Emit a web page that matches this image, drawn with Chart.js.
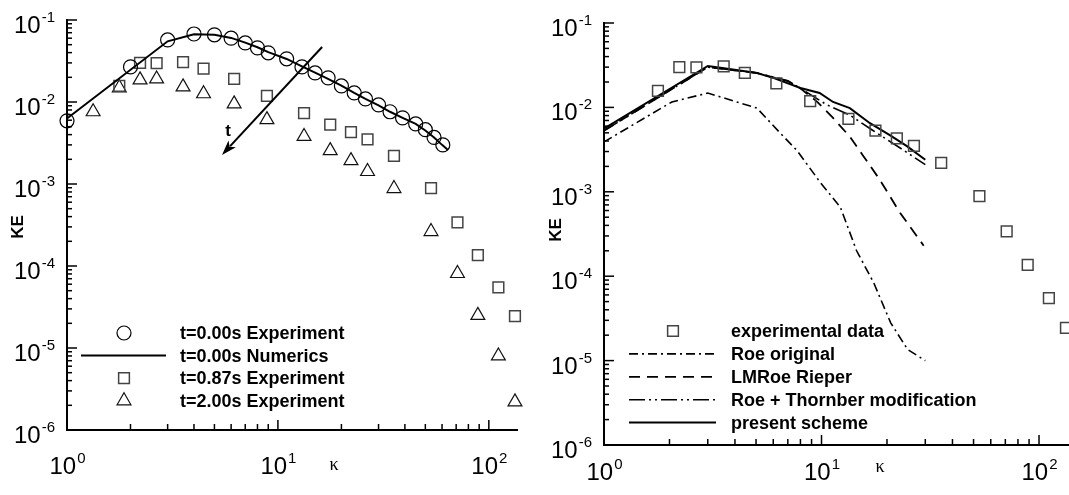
<!DOCTYPE html>
<html>
<head>
<meta charset="utf-8">
<script src="https://cdn.jsdelivr.net/npm/chart.js@4.4.1/dist/chart.umd.min.js"></script>
<style>
  html, body { margin: 0; padding: 0; background: #fff; overflow: hidden; width: 1069px; height: 495px; }
  canvas { position: absolute; top: 0; }
  #leftChart { left: 0; }
  #rightChart { left: 534px; }
</style>
</head>
<body>
<canvas id="leftChart" width="534" height="495"></canvas>
<canvas id="rightChart" width="580" height="495"></canvas>
<script>
// ---- data: left panel (decay of spectrum) ----
const kCircles = [1, 2, 3, 4, 5, 6, 7, 8, 9, 11, 13, 15, 17.3, 20, 23, 26, 30, 34, 39, 45, 50, 55, 60.5];
const keCircles = [0.0059, 0.0268, 0.0571, 0.0675, 0.066, 0.060, 0.0525, 0.0457, 0.0398, 0.0336, 0.0268, 0.0226, 0.0197, 0.0157, 0.0129, 0.0109, 0.0092, 0.0076, 0.0064, 0.0054, 0.0046, 0.0037, 0.0030];

const kNumerics = [1, 3, 4, 5, 6, 7, 8, 9, 11, 13, 15, 17, 20, 23, 26, 30, 34, 39, 45, 50, 55, 60, 64];
const keNumerics = [0.0063, 0.055, 0.067, 0.066, 0.0605, 0.053, 0.0465, 0.0405, 0.0335, 0.0272, 0.0228, 0.0196, 0.0158, 0.0129, 0.0109, 0.0091, 0.0076, 0.0064, 0.0054, 0.0045, 0.0037, 0.0030, 0.0026];

const kSquares = [1.77, 2.22, 2.66, 3.55, 4.44, 6.2, 8.87, 13.3, 17.7, 22.2, 26.6, 35.5, 53.2, 71, 88.7, 111, 133];
const keSquares = [0.0157, 0.0300, 0.0298, 0.0306, 0.0256, 0.0192, 0.0119, 0.0073, 0.0053, 0.0043, 0.0035, 0.0022, 0.00089, 0.00034, 0.000136, 0.000055, 0.0000244];

const kTriangles = [1.33, 1.77, 2.22, 2.66, 3.55, 4.44, 6.2, 8.87, 13.3, 17.7, 22.2, 26.6, 35.5, 53.2, 71, 88.7, 111, 133];
const keTriangles = [0.0076, 0.0149, 0.0186, 0.0191, 0.0153, 0.0126, 0.0095, 0.0061, 0.0038, 0.00255, 0.00193, 0.00142, 0.00088, 0.000263, 0.000081, 0.000025, 0.0000080, 0.0000022];

// arrow "t" (data coords)
const arrowFrom = [16.2, 0.0469];
const arrowTo = [5.43, 0.00226];
const arrowLabelAt = [5.8, 0.00434];

// ---- data: right panel (schemes) ----
const kRoe = [1, 2.05, 3, 5.05, 6.44, 7.7, 9.85, 12.2, 14.5, 17.4, 20.8, 24.9, 30];
const keRoe = [0.0039, 0.0116, 0.0148, 0.0098, 0.005, 0.0031, 0.0013, 0.00066, 0.0002, 0.000083, 0.000028, 0.0000135, 0.00001];

const kLMRoe = [1, 3, 5, 7, 8, 9.5, 11.3, 13.5, 15.5, 18.5, 23, 29.5];
const keLMRoe = [0.0053, 0.030, 0.0257, 0.0205, 0.0168, 0.0118, 0.0075, 0.0045, 0.0027, 0.0014, 0.00056, 0.00023];

const kThornber = [1, 3, 5, 7, 8, 10.6, 13.5, 17.1, 23, 30];
const keThornber = [0.0053, 0.0300, 0.0257, 0.0207, 0.0168, 0.0107, 0.0081, 0.0054, 0.0033, 0.0021];

const kPresent = [1, 3, 3.5, 5.05, 6, 8, 9.8, 11.3, 13.5, 16.7, 20.6, 24.6, 30];
const kePresent = [0.0056, 0.031, 0.0293, 0.0256, 0.0224, 0.017, 0.0148, 0.0116, 0.0098, 0.0065, 0.0047, 0.0035, 0.0024];

// ticks
const xTickPowers = [0, 1, 2];
const yTickPowers = [-6, -5, -4, -3, -2, -1];
const minorSteps = [2, 3, 4, 5, 6, 7, 8, 9];

const FONT = '"Liberation Sans", Arial, Helvetica, sans-serif';

function pts(xs, ys) {
  return xs.map((x, i) => ({ x: x, y: ys[i] }));
}

function logTicks(powers, min, max) {
  const out = [];
  powers.forEach((p) => {
    const d = Math.pow(10, p);
    if (d >= min * 0.999 && d <= max * 1.001) out.push({ value: d, major: true, power: p });
    minorSteps.forEach((m) => {
      const v = m * d;
      if (v >= min && v <= max) out.push({ value: v, major: false });
    });
  });
  return out;
}

function supLabel(ctx, exp, x, y, align) {
  ctx.font = '24px ' + FONT;
  const wb = ctx.measureText('10').width;
  ctx.font = '15px ' + FONT;
  const we = ctx.measureText(exp).width;
  const x0 = align === 'center' ? x - (wb + we) / 2 : x - (wb + we + 1);
  ctx.font = '24px ' + FONT;
  ctx.fillText('10', x0, y);
  ctx.font = '15px ' + FONT;
  ctx.fillText(exp, x0 + wb + 1, y - 11);
}

// draws inward tick marks, tick labels, axis titles, legend and arrow
const decorPlugin = {
  id: 'decor',
  afterDatasetsDraw(chart, args, opts) {
    const ctx = chart.ctx;
    const xs = chart.scales.x;
    const ys = chart.scales.y;
    const area = chart.chartArea;
    ctx.save();
    ctx.strokeStyle = '#000';
    ctx.fillStyle = '#000';
    ctx.lineWidth = 1.5;
    ctx.textBaseline = 'alphabetic';
    ctx.textAlign = 'left';

    logTicks(xTickPowers, xs.min, xs.max).forEach((t) => {
      const px = xs.getPixelForValue(t.value);
      const len = t.major ? 10 : 6;
      ctx.beginPath();
      ctx.moveTo(px, area.bottom);
      ctx.lineTo(px, area.bottom - len);
      ctx.stroke();
      if (t.major) supLabel(ctx, String(t.power), px, opts.xLabelY, 'center');
    });

    logTicks(yTickPowers, ys.min, ys.max).forEach((t) => {
      const py = ys.getPixelForValue(t.value);
      const len = t.major ? 10 : 5;
      ctx.beginPath();
      ctx.moveTo(area.left, py);
      ctx.lineTo(area.left + len, py);
      ctx.stroke();
      if (t.major) supLabel(ctx, String(t.power), area.left - 12, py + 13, 'right');
    });

    // axis titles
    ctx.font = 'bold 17px ' + FONT;
    ctx.textAlign = 'center';
    ctx.textBaseline = 'middle';
    ctx.save();
    ctx.translate(opts.keX, opts.keY);
    ctx.rotate(-Math.PI / 2);
    ctx.fillText('KE', 0, 0);
    ctx.restore();
    ctx.font = '18px "Liberation Serif", "Times New Roman", serif';
    ctx.fillText('\u03BA', opts.kappaX, opts.kappaY);

    // legend
    const lg = opts.legend;
    chart.data.datasets.forEach((ds, i) => {
      const y = lg.top + i * lg.step;
      ctx.save();
      if (ds.showLine) {
        ctx.lineWidth = ds.borderWidth;
        ctx.setLineDash(ds.borderDash || []);
        ctx.beginPath();
        ctx.moveTo(lg.lineX0, y);
        ctx.lineTo(lg.lineX1, y);
        ctx.stroke();
      } else {
        ctx.strokeStyle = ds.borderColor;
        ctx.fillStyle = 'rgba(0,0,0,0)';
        ctx.lineWidth = ds.borderWidth;
        Chart.helpers.drawPoint(ctx, { pointStyle: ds.pointStyle, radius: ds.pointRadius, rotation: 0, borderWidth: ds.borderWidth }, lg.symX, y);
      }
      ctx.restore();
      ctx.font = 'bold 18px ' + FONT;
      ctx.textAlign = 'left';
      ctx.textBaseline = 'middle';
      ctx.fillText(ds.label, lg.textX, y + 1);
    });

    // arrow
    if (opts.arrow) {
      const x0 = xs.getPixelForValue(arrowFrom[0]);
      const y0 = ys.getPixelForValue(arrowFrom[1]);
      const x1 = xs.getPixelForValue(arrowTo[0]);
      const y1 = ys.getPixelForValue(arrowTo[1]);
      const ang = Math.atan2(y1 - y0, x1 - x0);
      const hl = 15, hw = 5;
      ctx.lineWidth = 2;
      ctx.beginPath();
      ctx.moveTo(x0, y0);
      ctx.lineTo(x1 - Math.cos(ang) * hl * 0.8, y1 - Math.sin(ang) * hl * 0.8);
      ctx.stroke();
      ctx.beginPath();
      ctx.moveTo(x1, y1);
      ctx.lineTo(x1 - Math.cos(ang) * hl - Math.sin(ang) * hw, y1 - Math.sin(ang) * hl + Math.cos(ang) * hw);
      ctx.lineTo(x1 - Math.cos(ang) * hl * 0.75, y1 - Math.sin(ang) * hl * 0.75);
      ctx.lineTo(x1 - Math.cos(ang) * hl + Math.sin(ang) * hw, y1 - Math.sin(ang) * hl - Math.cos(ang) * hw);
      ctx.closePath();
      ctx.fill();
      ctx.font = 'bold 17px ' + FONT;
      ctx.textAlign = 'center';
      ctx.fillText('t', xs.getPixelForValue(arrowLabelAt[0]), ys.getPixelForValue(arrowLabelAt[1]));
    }
    ctx.restore();
  },
};

function logAxis(min, max) {
  return {
    type: 'logarithmic',
    min: min,
    max: max,
    ticks: { display: false },
    grid: { display: false, drawTicks: false, tickLength: 0 },
    border: { display: true, color: '#000', width: 2 },
    title: { display: false },
  };
}

function baseOptions(pad, xMax, decor) {
  return {
    responsive: false,
    devicePixelRatio: 1,
    animation: false,
    events: [],
    layout: { padding: pad },
    scales: { x: logAxis(1, xMax), y: logAxis(1e-6, 0.1) },
    plugins: { legend: { display: false }, tooltip: { enabled: false }, decor: decor },
  };
}

// left chart
new Chart(document.getElementById('leftChart'), {
  type: 'scatter',
  data: {
    datasets: [
      { label: 't=0.00s Experiment', data: pts(kCircles, keCircles), pointStyle: 'circle', pointRadius: 7, borderColor: '#000', backgroundColor: 'rgba(0,0,0,0)', borderWidth: 1.2, showLine: false, clip: false },
      { label: 't=0.00s Numerics', data: pts(kNumerics, keNumerics), pointRadius: 0, borderColor: '#000', borderWidth: 2, showLine: true, tension: 0, clip: false },
      { label: 't=0.87s Experiment', data: pts(kSquares, keSquares), pointStyle: 'rect', pointRadius: 7.6, borderColor: '#444', backgroundColor: 'rgba(0,0,0,0)', borderWidth: 1.5, showLine: false, clip: false },
      { label: 't=2.00s Experiment', data: pts(kTriangles, keTriangles), pointStyle: 'triangle', pointRadius: 8, borderColor: '#111', backgroundColor: 'rgba(0,0,0,0)', borderWidth: 1.2, showLine: false, clip: false },
    ],
  },
  options: baseOptions({ left: 67, right: 17, top: 20, bottom: 65 }, 136, {
    xLabelY: 474, keX: 18, keY: 227, kappaX: 334, kappaY: 465,
    legend: { top: 333, step: 22.6, symX: 124, lineX0: 81, lineX1: 166, textX: 180 },
    arrow: true,
  }),
  plugins: [decorPlugin],
});

// right chart
new Chart(document.getElementById('rightChart'), {
  type: 'scatter',
  data: {
    datasets: [
      { label: 'experimental data', data: pts(kSquares, keSquares), pointStyle: 'rect', pointRadius: 7.6, borderColor: '#444', backgroundColor: 'rgba(0,0,0,0)', borderWidth: 1.5, showLine: false, clip: false },
      { label: 'Roe original', data: pts(kRoe, keRoe), pointRadius: 0, borderColor: '#000', borderWidth: 1.6, borderDash: [9, 4, 2, 4], showLine: true, tension: 0, clip: false },
      { label: 'LMRoe Rieper', data: pts(kLMRoe, keLMRoe), pointRadius: 0, borderColor: '#000', borderWidth: 1.8, borderDash: [11, 7], showLine: true, tension: 0, clip: false },
      { label: 'Roe + Thornber modification', data: pts(kThornber, keThornber), pointRadius: 0, borderColor: '#000', borderWidth: 1.6, borderDash: [16, 4, 2, 4, 2, 4], showLine: true, tension: 0, clip: false },
      { label: 'present scheme', data: pts(kPresent, kePresent), pointRadius: 0, borderColor: '#000', borderWidth: 2, showLine: true, tension: 0, clip: false },
    ],
  },
  options: baseOptions({ left: 70, right: 9.5, top: 23, bottom: 50 }, 200, {
    xLabelY: 480, keX: 22, keY: 230, kappaX: 346, kappaY: 467,
    legend: { top: 331, step: 22.9, symX: 139, lineX0: 95, lineX1: 182, textX: 197 },
    arrow: false,
  }),
  plugins: [decorPlugin],
});
</script>
</body>
</html>
